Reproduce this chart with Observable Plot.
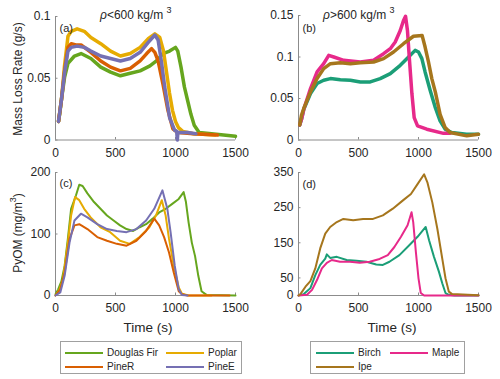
<!DOCTYPE html>
<html><head><meta charset="utf-8">
<script src="https://cdn.jsdelivr.net/npm/d3@7"></script>
<script src="https://cdn.jsdelivr.net/npm/@observablehq/plot@0.6"></script>
<style>
body{margin:0;background:#fff;}
#root{position:relative;width:500px;height:379px;font-family:"Liberation Sans",Arial,sans-serif;color:#262626;overflow:hidden;background:#fff}
.panel{position:absolute}
.txt{position:absolute;white-space:nowrap;line-height:1}
.rot{transform:translate(-50%,-50%) rotate(-90deg);font-size:12px}
.ctr{transform:translate(-50%,-50%)}
sup{font-size:9px;vertical-align:0;position:relative;top:-6px}
.legend{position:absolute;border:1px solid #a0a0a0;background:#fff;box-sizing:border-box}
.sw{position:absolute;height:2px}
.lt{position:absolute;font-size:10px;transform:translateY(-50%);white-space:nowrap;line-height:1}
</style></head><body><div id="root"></div>
<script>
// ---------- data (time s, value) ----------
const timeTicks = [0, 500, 1000, 1500];
const lowNames = ["Douglas Fir", "Poplar", "PineR", "PineE"];
const lowColors = ["#66a61e", "#e6ab02", "#d95f02", "#7570b3"];
const highNames = ["Birch", "Maple", "Ipe"];
const highColors = ["#1b9e77", "#e7298a", "#a6761d"];

const mlrTicksLow = [0, 0.05, 0.1];
const mlrTicksHigh = [0, 0.05, 0.1, 0.15];
const pyomTicksLow = [0, 100, 200];
const pyomTicksHigh = [0, 50, 150, 250, 350];

// (a) mass loss rate, g/s
const douglasFirMLR = [[25,0.015],[35,0.021],[50,0.033],[76,0.051],[104,0.062],[158,0.068],[213,0.07],[295,0.066],[377,0.059],[459,0.055],[541,0.052],[623,0.054],[705,0.056],[787,0.06],[841,0.064],[896,0.07],[951,0.072],[1000,0.075],[1019,0.072],[1046,0.059],[1074,0.043],[1101,0.032],[1128,0.021],[1156,0.012],[1197,0.006],[1300,0.005],[1400,0.004],[1500,0.003]];
const poplarMLR = [[25,0.015],[50,0.033],[75,0.06],[104,0.084],[131,0.088],[180,0.09],[240,0.088],[295,0.083],[377,0.078],[459,0.072],[541,0.068],[623,0.07],[705,0.075],[773,0.082],[828,0.086],[869,0.083],[900,0.072],[925,0.055],[950,0.038],[975,0.024],[1000,0.015],[1025,0.01],[1060,0.007],[1150,0.005],[1330,0.004]];
const pineRMLR = [[25,0.015],[50,0.033],[76,0.056],[104,0.075],[131,0.078],[170,0.077],[213,0.077],[295,0.071],[377,0.064],[459,0.059],[541,0.056],[623,0.058],[705,0.064],[760,0.07],[800,0.074],[828,0.071],[855,0.064],[896,0.045],[937,0.024],[978,0.009],[1019,0.006],[1150,0.005],[1350,0.004]];
const pineEMLR = [[25,0.015],[50,0.033],[76,0.055],[104,0.072],[131,0.075],[180,0.076],[240,0.075],[295,0.072],[377,0.068],[459,0.066],[541,0.064],[623,0.066],[705,0.071],[773,0.079],[828,0.085],[855,0.081],[882,0.064],[910,0.043],[951,0.018],[992,0.008],[1010,0.007],[1015,0.0],[1020,0.006],[1100,0.006],[1170,0.005]];

// (b) mass loss rate, g/s
const birchMLR = [[10,0.018],[25,0.025],[44,0.037],[100,0.056],[155,0.068],[210,0.072],[266,0.074],[349,0.0725],[432,0.072],[515,0.07],[598,0.07],[681,0.074],[765,0.08],[848,0.09],[917,0.1],[972,0.108],[1000,0.106],[1028,0.098],[1055,0.082],[1097,0.06],[1138,0.04],[1180,0.023],[1222,0.013],[1277,0.009],[1400,0.007],[1500,0.007]];
const mapleMLR = [[10,0.018],[25,0.025],[44,0.037],[100,0.062],[155,0.082],[210,0.092],[252,0.102],[294,0.1],[377,0.096],[515,0.094],[626,0.096],[709,0.104],[765,0.11],[806,0.118],[848,0.132],[875,0.144],[892,0.149],[908,0.132],[925,0.096],[945,0.056],[964,0.027],[992,0.017],[1069,0.013],[1208,0.008],[1265,0.008]];
const ipeMLR = [[10,0.018],[25,0.03],[44,0.038],[100,0.058],[155,0.074],[210,0.086],[266,0.092],[349,0.093],[432,0.092],[515,0.093],[626,0.094],[709,0.098],[792,0.106],[875,0.116],[958,0.125],[1030,0.126],[1055,0.112],[1083,0.094],[1111,0.074],[1140,0.058],[1180,0.031],[1222,0.015],[1263,0.009],[1402,0.005],[1500,0.007]];

// (c) PyOM, mg/m3
const douglasFirPyOM = [[0,2],[22,10],[49,23],[76,48],[103,92],[130,141],[171,163],[198,180],[226,178],[266,166],[321,152],[375,141],[429,130],[484,122],[538,114],[592,108],[647,105],[701,111],[755,116],[810,125],[864,135],[918,141],[973,149],[1027,157],[1068,168],[1087,152],[1109,119],[1136,86],[1163,64],[1190,32],[1217,7],[1258,1],[1500,0]];
const poplarPyOM = [[0,0],[30,8],[62,26],[103,86],[130,130],[163,160],[198,155],[239,141],[293,127],[375,111],[456,103],[538,89],[619,84],[701,95],[782,111],[837,130],[886,155],[918,130],[946,92],[986,48],[1027,13],[1054,3],[1109,0],[1300,0]];
const pineRPyOM = [[0,0],[40,10],[76,37],[117,92],[158,114],[198,116],[266,108],[348,95],[429,89],[511,84],[592,81],[674,89],[755,105],[823,125],[864,114],[905,95],[946,70],[986,37],[1027,7],[1054,2],[1100,0],[1450,0]];
const pineEPyOM = [[0,0],[40,5],[76,32],[117,86],[158,122],[212,133],[266,127],[348,116],[429,108],[511,105],[592,103],[674,108],[755,122],[823,141],[891,171],[932,141],[959,103],[994,48],[1027,10],[1054,1],[1100,0]];

// (d) PyOM, mg/m3
const birchPyOM = [[0,0],[44,4],[99,21],[140,58],[181,87],[223,105],[236,117],[264,107],[319,110],[401,101],[483,99],[566,96],[648,88],[703,87],[758,96],[841,115],[923,143],[992,167],[1060,195],[1088,157],[1129,110],[1170,68],[1198,35],[1225,7],[1253,2],[1300,0],[1500,0]];
const maplePyOM = [[0,0],[71,2],[113,16],[154,44],[195,77],[236,93],[277,101],[346,96],[429,96],[511,93],[593,96],[676,104],[744,115],[799,138],[854,167],[909,200],[942,237],[956,209],[978,124],[1000,49],[1019,7],[1047,0],[1500,0]];
const ipePyOM = [[0,0],[16,4],[58,25],[99,41],[140,77],[181,134],[223,176],[264,195],[319,209],[374,218],[456,214],[538,218],[621,218],[703,228],[786,247],[868,270],[937,289],[992,317],[1047,345],[1074,322],[1115,265],[1157,190],[1198,105],[1225,49],[1253,11],[1280,4],[1500,1]];

// ---------- drawing ----------
const root = document.getElementById("root");
const AXIS = "#8c8c8c";
const fmt = d => String(d);

function panel({left, top, height, ml, mr, mt, mb, yDomain, yTicks, series, colors, label, labelDy, sw}) {
  const marks = [
    Plot.ruleY([yDomain[0]], {stroke: AXIS}),
    Plot.ruleX([0], {stroke: AXIS}),
    Plot.axisX({ticks: timeTicks, tickSize: -2.5, tickPadding: 10.5, tickFormat: fmt, label: null, stroke: AXIS, fill: "#262626", fontSize: 12}),
    Plot.axisY({ticks: yTicks, tickSize: -2.5, tickPadding: 7.5, tickFormat: fmt, label: null, stroke: AXIS, fill: "#262626", fontSize: 12}),
  ];
  series.forEach((s, i) => marks.push(Plot.line(s, {x: d => d[0], y: d => d[1], stroke: colors[i], strokeWidth: sw})));
  marks.push(Plot.text([label], {frameAnchor: "top-left", dx: 4, dy: labelDy, fontSize: 11, fill: "#262626", textAnchor: "start"}));
  const svg = Plot.plot({
    width: 250, height,
    marginLeft: ml, marginRight: mr, marginTop: mt, marginBottom: mb,
    x: {domain: [0, 1500]},
    y: {domain: yDomain},
    style: {fontFamily: '"Liberation Sans", Arial, sans-serif', fontSize: "12px", color: "#262626", background: "transparent", overflow: "visible"},
    marks
  });
  svg.classList.add("panel");
  svg.style.left = left + "px";
  svg.style.top = top + "px";
  root.appendChild(svg);
}

panel({left: 0, top: 0, height: 165, ml: 55, mr: 15, mt: 16, mb: 25.5, yDomain: [0, 0.1], yTicks: mlrTicksLow,
  series: [douglasFirMLR, poplarMLR, pineRMLR, pineEMLR], colors: lowColors, label: "(a)", labelDy: 8, sw: 3.5});
panel({left: 250, top: 0, height: 165, ml: 48, mr: 22, mt: 15, mb: 25.5, yDomain: [0, 0.15], yTicks: mlrTicksHigh,
  series: [birchMLR, mapleMLR, ipeMLR], colors: highColors, label: "(b)", labelDy: 9, sw: 3.5});
panel({left: 0, top: 160, height: 160, ml: 55, mr: 15, mt: 12, mb: 25, yDomain: [0, 200], yTicks: pyomTicksLow,
  series: [douglasFirPyOM, poplarPyOM, pineRPyOM, pineEPyOM], colors: lowColors, label: "(c)", labelDy: 7, sw: 2});
panel({left: 250, top: 160, height: 160, ml: 48, mr: 22, mt: 12, mb: 25, yDomain: [0, 350], yTicks: pyomTicksHigh,
  series: [birchPyOM, maplePyOM, ipePyOM], colors: highColors, label: "(d)", labelDy: 8, sw: 2});

function addText(html, cls, x, y, extra = "") {
  const d = document.createElement("div");
  d.className = "txt " + cls;
  d.style.left = x + "px";
  d.style.top = y + "px";
  if (extra) d.style.cssText += extra;
  d.innerHTML = html;
  root.appendChild(d);
}
addText("Mass Loss Rate (g/s)", "rot", 18, 79);
addText("PyOM (mg/m<sup>3</sup>)", "rot", 18, 233);
addText("Time (s)", "ctr", 148, 328, "font-size:13.5px");
addText("Time (s)", "ctr", 392, 328, "font-size:13.5px");
addText("<i>ρ</i>&lt;600 kg/m <sup>3</sup>", "", 100, 9, "font-size:12px");
addText("<i>ρ</i>&gt;600 kg/m <sup>3</sup>", "", 323, 9, "font-size:12px");

function legend(left, width, names, colors, cols) {
  const box = document.createElement("div");
  box.className = "legend";
  box.style.left = left + "px";
  box.style.top = "341px";
  box.style.width = width + "px";
  box.style.height = "33px";
  names.forEach((n, i) => {
    const c = i % 2, r = Math.floor(i / 2);
    const lx = cols[c], y = r === 0 ? 11 : 24.5;
    const s = document.createElement("div");
    s.className = "sw";
    s.style.left = lx + "px"; s.style.top = (y - 1) + "px"; s.style.width = "38px"; s.style.background = colors[i];
    box.appendChild(s);
    const t = document.createElement("div");
    t.className = "lt";
    t.style.left = (lx + 42) + "px"; t.style.top = y + "px";
    t.textContent = n;
    box.appendChild(t);
  });
  root.appendChild(box);
}
legend(60, 182, lowNames, lowColors, [4, 105]);
legend(310, 155, highNames, highColors, [5, 79]);
</script></body></html>
